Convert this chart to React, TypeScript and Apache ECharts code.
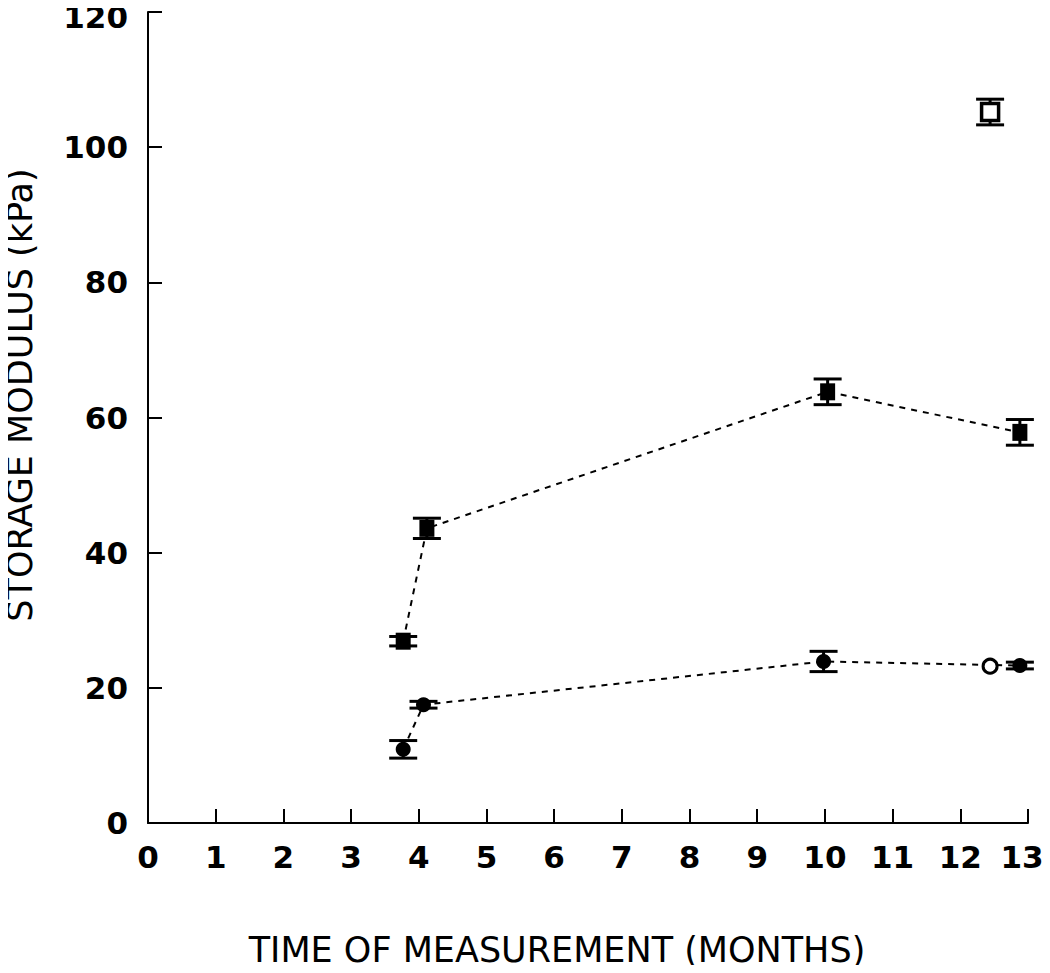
import React, { useEffect, useRef } from "react";
import * as echarts from "echarts";

const xTicks = [0, 1, 2, 3, 4, 5, 6, 7, 8, 9, 10, 11, 12, 13];
const yTicks = [0, 20, 40, 60, 80, 100, 120];
const xTitle = "TIME OF MEASUREMENT (MONTHS)";
const yTitle = "STORAGE MODULUS (kPa)";

// Filled squares series
const sqMonths = [3.77, 4.12, 10.04, 12.88];
const sqValues = [26.9, 43.6, 63.8, 57.8];
const sqErrors = [0.7, 1.5, 1.9, 1.9];

// Filled circles series
const ciMonths = [3.77, 4.07, 9.98, 12.88];
const ciValues = [10.9, 17.5, 23.9, 23.3];
const ciErrors = [1.3, 0.5, 1.5, 0.5];

// Open circle
const ocMonths = [12.44];
const ocValues = [23.2];

// Open square
const osMonths = [12.44];
const osValues = [105.2];
const osErrors = [1.9];

const FONT = "DejaVu Sans";

function errData(xs: number[], ys: number[], es: number[]) {
  return xs.map((x, i) => [x, ys[i] - es[i], ys[i] + es[i]]);
}

export default function App() {
  const ref = useRef<HTMLDivElement>(null);
  useEffect(() => {
    if (!ref.current) return;
    const chart = echarts.init(ref.current, null, { renderer: "svg" });
    const errRender = (params: any, api: any) => {
      const x = api.value(0);
      const lo = api.coord([x, api.value(1)]);
      const hi = api.coord([x, api.value(2)]);
      const hw = 14;
      const st = { stroke: "#000", lineWidth: 3 };
      return {
        type: "group",
        children: [
          { type: "line", shape: { x1: lo[0], y1: lo[1], x2: hi[0], y2: hi[1] }, style: st },
          { type: "line", shape: { x1: lo[0] - hw, y1: lo[1], x2: lo[0] + hw, y2: lo[1] }, style: st },
          { type: "line", shape: { x1: hi[0] - hw, y1: hi[1], x2: hi[0] + hw, y2: hi[1] }, style: st },
        ],
      };
    };
    const labelStyle = { fontFamily: FONT, fontSize: 31, fontWeight: "bold", color: "#000" };
    chart.setOption({
      animation: false,
      backgroundColor: "#fff",
      grid: { left: 148, right: 22, top: 12, bottom: 150, containLabel: false, outerBoundsMode: "none" },
      graphic: [
        {
          type: "text",
          x: 557,
          y: 950,
          style: { text: xTitle, fontFamily: FONT, fontSize: 35, fill: "#000", align: "center", verticalAlign: "middle" },
        },
        {
          type: "text",
          x: 20,
          y: 395,
          rotation: Math.PI / 2,
          style: { text: yTitle, fontFamily: FONT, fontSize: 35, fill: "#000", align: "center", verticalAlign: "middle" },
        },
      ],
      xAxis: {
        type: "value",
        min: 0,
        max: 13,
        interval: 1,
        axisLine: { lineStyle: { color: "#000", width: 2 } },
        axisTick: { inside: true, length: 14, lineStyle: { color: "#000", width: 2 } },
        axisLabel: {
          ...labelStyle,
          margin: 18,
          formatter: (v: number) => (v === 13 ? "{end|13}" : xTicks.includes(v) ? String(v) : ""),
          rich: { end: { ...labelStyle, padding: [0, 12, 0, 0] } },
        },
        splitLine: { show: false },
      },
      yAxis: {
        type: "value",
        min: 0,
        max: 120,
        interval: 20,
        axisLine: { show: true, lineStyle: { color: "#000", width: 2 } },
        axisTick: { show: true, inside: true, length: 14, lineStyle: { color: "#000", width: 2 } },
        axisLabel: {
          ...labelStyle,
          margin: 20,
          formatter: (v: number) => (v === 120 ? "{top|120}" : yTicks.includes(v) ? String(v) : ""),
          rich: { top: { ...labelStyle, padding: [10, 0, 0, 0] } },
        },
        splitLine: { show: false },
      },
      series: [
        {
          type: "line",
          data: sqMonths.map((x, i) => [x, sqValues[i]]),
          symbol: "rect",
          symbolSize: [15, 17],
          itemStyle: { color: "#000" },
          lineStyle: { color: "#000", width: 2, type: [6, 6] },
          z: 3,
        },
        {
          type: "line",
          data: ciMonths.map((x, i) => [x, ciValues[i]]),
          symbol: "circle",
          symbolSize: 15,
          itemStyle: { color: "#000" },
          lineStyle: { color: "#000", width: 2, type: [6, 6] },
          z: 3,
        },
        {
          type: "scatter",
          data: ocMonths.map((x, i) => [x, ocValues[i]]),
          symbol: "circle",
          symbolSize: 14,
          itemStyle: { color: "#fff", borderColor: "#000", borderWidth: 3, opacity: 1 },
          z: 4,
        },
        {
          type: "scatter",
          data: osMonths.map((x, i) => [x, osValues[i]]),
          symbol: "rect",
          symbolSize: 17,
          itemStyle: { color: "#fff", borderColor: "#000", borderWidth: 3.5, opacity: 1 },
          z: 4,
        },
        {
          type: "custom",
          renderItem: errRender,
          data: [
            ...errData(sqMonths, sqValues, sqErrors),
            ...errData(ciMonths, ciValues, ciErrors),
            ...errData(osMonths, osValues, osErrors),
          ],
          encode: { x: 0, y: [1, 2] },
          z: 2,
        },
      ],
    });
    return () => chart.dispose();
  }, []);
  return <div ref={ref} style={{ width: 1050, height: 973, margin: -8 }} />;
}
